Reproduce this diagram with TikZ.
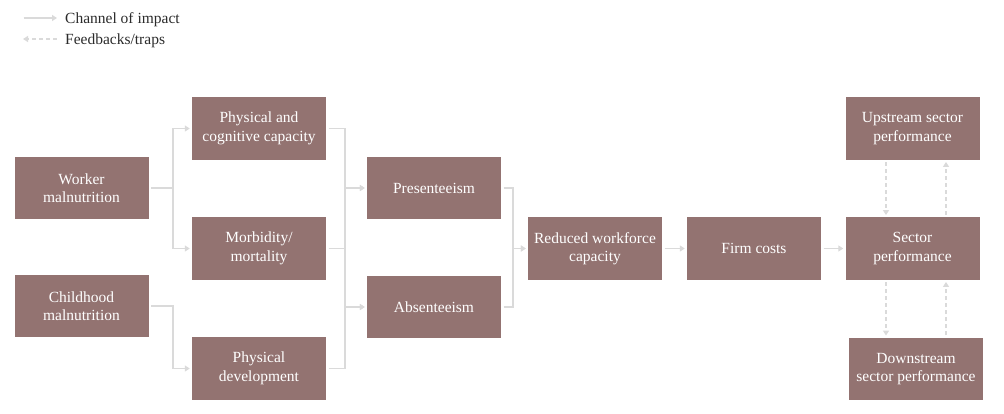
\documentclass[tikz,border=0pt]{standalone}
\usepackage{fontspec}
\setmainfont{Liberation Serif}
\usetikzlibrary{arrows.meta}
\definecolor{boxfill}{HTML}{937371}
\definecolor{linkgray}{HTML}{DADADA}
\definecolor{legendtext}{HTML}{2B2B2B}
\tikzset{
  box/.style={fill=boxfill, text=white, minimum width=134pt, minimum height=62.5pt,
    inner sep=0pt, align=center, font=\fontsize{15.5}{18.5}\selectfont},
  link/.style={draw=linkgray, line width=1.8pt, -{Triangle[length=5pt,width=6pt]},
    shorten >=2pt, shorten <=2.5pt},
  feedback/.style={link, dash pattern=on 4pt off 3pt},
  legendlabel/.style={anchor=base west, text=legendtext, inner sep=0pt,
    font=\fontsize{15.5}{18.5}\selectfont},
}
\begin{document}
\begin{tikzpicture}[x=1pt,y=-1pt]
    \useasboundingbox (0,0) rectangle (1004,413);
    % Legend %
    \coordinate (chanA) at (21,18);
    \coordinate (chanB) at (59,18);
    \coordinate (feedA) at (21,39);
    \coordinate (feedB) at (59,39);
    \draw[link] (chanA) -- (chanB);
    \draw[feedback] (feedB) -- (feedA);
    \node[legendlabel] (chanlabel) at (65,23) {Channel of impact};
    \node[legendlabel] (feedlabel) at (65,44) {Feedbacks/traps};

    % Boxes %
    \node[box] (worker) at (81.5,188) {Worker\\malnutrition};
    \node[box] (child) at (81.5,306) {Childhood\\malnutrition};
    \node[box] (phys) at (259,128.5) {Physical and\\cognitive capacity};
    \node[box] (morb) at (259,248.5) {Morbidity/\\mortality};
    \node[box] (devel) at (259,368.5) {Physical\\development};
    \node[box] (pres) at (434,188) {Presenteeism};
    \node[box] (abs) at (434,307) {Absenteeism};
    \node[box] (reduced) at (595,248.5) {Reduced workforce\\capacity};
    \node[box] (firm) at (754,248.5) {Firm costs};
    \node[box] (sector) at (912.5,248.5) {Sector\\performance};
    \node[box] (up) at (912.5,128.5) {Upstream sector\\performance};
    \node[box] (down) at (916,369) {Downstream\\sector performance};

    % Channels of impact %
    \draw[link] (worker.east) -- ++(24,0) |- (phys.west);
    \draw[link] (worker.east) -- ++(24,0) |- (morb.west);
    \draw[link] (child.east) -- ++(24,0) |- (devel.west);
    \draw[link] (phys.east) -- ++(19,0) |- (pres.west);
    \draw[link] (morb.east) -- ++(19,0) |- (pres.west);
    \draw[link] (morb.east) -- ++(19,0) |- (abs.west);
    \draw[link] (devel.east) -- ++(19,0) |- (abs.west);
    \draw[link] (pres.east) -- ++(12,0) |- (reduced.west);
    \draw[link] (abs.east) -- ++(12,0) |- (reduced.west);
    \draw[link] (reduced) -- (firm);
    \draw[link] (firm) -- (sector);

    % Feedbacks %
    \draw[feedback] ([xshift=-26.5pt]up.south) -- ([xshift=-26.5pt]sector.north);
    \draw[feedback] ([xshift=33.5pt]sector.north) -- ([xshift=33.5pt]up.south);
    \draw[feedback] ([xshift=-26.5pt]sector.south) -- ([xshift=-30pt]down.north);
    \draw[feedback] ([xshift=30pt]down.north) -- ([xshift=33.5pt]sector.south);
\end{tikzpicture}
\end{document}
